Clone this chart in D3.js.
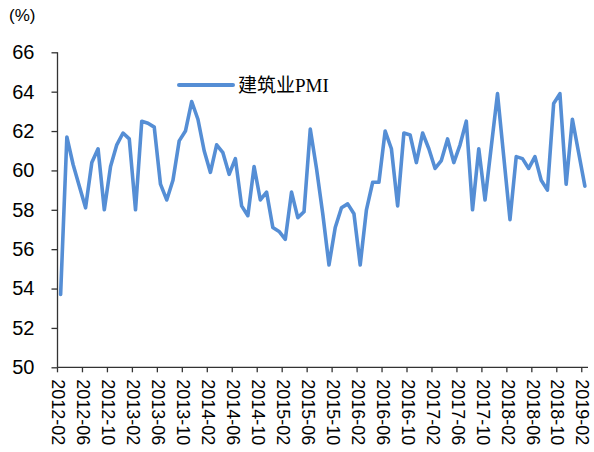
<!DOCTYPE html>
<html>
<head>
<meta charset="utf-8">
<script src="https://cdn.jsdelivr.net/npm/d3@7"></script>
<style>
  body { margin: 0; background: #fff; }
  svg { display: block; }
</style>
</head>
<body>
<svg class="chart"></svg>
<script>
// monthly categories 2012-02 .. 2019-02
var months = [];
for (var y = 2012; y <= 2019; y++) {
    for (var m = 1; m <= 12; m++) {
        if ((y == 2012 && m < 2) || (y == 2019 && m > 2)) continue;
        months.push(y + "-" + (m < 10 ? "0" + m : m));
    }
}

var seriesName = "建筑业PMI";
var pmi = [
    53.7, 61.7, 60.3, 59.2, 58.1, 60.4, 61.1, 58.0, 60.2, 61.3, 61.9, 61.6,
    58.0, 62.5, 62.4, 62.2, 59.3, 58.5, 59.5, 61.5, 62.0, 63.5, 62.6, 61.0,
    59.9, 61.3, 60.9, 59.8, 60.6, 58.2, 57.7, 60.2, 58.5, 58.9, 57.1, 56.9,
    56.5, 58.9, 57.6, 57.9, 62.1, 60.1, 57.8, 55.2, 57.1, 58.1, 58.3, 57.8,
    55.2, 58.0, 59.4, 59.4, 62.0, 61.1, 58.2, 61.9, 61.8, 60.4, 61.9, 61.1,
    60.1, 60.5, 61.6, 60.4, 61.3, 62.5, 58.0, 61.1, 58.5, 61.2, 63.9, 60.7,
    57.5, 60.7, 60.6, 60.1, 60.7, 59.5, 59.0, 63.4, 63.9, 59.3, 62.6, 60.9,
    59.2
];
var tickLabels = ["2012-02", "2012-06", "2012-10", "2013-02", "2013-06", "2013-10",
    "2014-02", "2014-06", "2014-10", "2015-02", "2015-06", "2015-10",
    "2016-02", "2016-06", "2016-10", "2017-02", "2017-06", "2017-10",
    "2018-02", "2018-06", "2018-10", "2019-02"];
var yTicks = [50, 52, 54, 56, 58, 60, 62, 64, 66];

var width = 594, height = 452;
var lineColor = "#558ed5";
var axisColor = "#333";

var svg = d3.select("svg.chart")
    .attr("width", width)
    .attr("height", height)
    .style("font-family", "Arial, 'Liberation Sans', sans-serif");

var x = d3.scaleBand()
    .domain(months)
    .range([57.5, 588])
    .paddingInner(0)
    .paddingOuter(0);

var yScale = d3.scaleLinear()
    .domain([50, 66])
    .range([367.3, 52.3]);

// y axis
var yAxis = svg.append("g")
    .attr("transform", "translate(" + x.range()[0] + ",0)")
    .call(d3.axisLeft(yScale).tickValues(yTicks).tickSize(6).tickPadding(17).tickFormat(d3.format("d")));
yAxis.selectAll("text")
    .style("font-size", "20px")
    .attr("fill", "#000");

// x axis: ticks at the left edge of each labelled month
var xAxis = svg.append("g")
    .attr("transform", "translate(0," + yScale(50) + ")");
xAxis.append("line")
    .attr("x1", x.range()[0])
    .attr("x2", x.range()[1])
    .attr("stroke", axisColor)
    .attr("stroke-width", 1.3);
var xt = xAxis.selectAll("g.tick")
    .data(tickLabels)
    .enter()
    .append("g")
    .attr("class", "tick")
    .attr("transform", d => "translate(" + x(d) + ",0)");
xt.append("line")
    .attr("y2", 5)
    .attr("stroke", axisColor)
    .attr("stroke-width", 1.3);
xt.append("text")
    .attr("transform", "translate(1,12) rotate(90)")
    .attr("dy", "0.35em")
    .style("font-size", "18px")
    .attr("fill", "#000")
    .text(d => d);

yAxis.selectAll("path, line")
    .attr("stroke", axisColor)
    .attr("stroke-width", 1.3);
yAxis.select("path.domain")
    .attr("d", "M0," + yScale(66) + "V" + yScale(50));

// unit label
svg.append("text")
    .attr("x", 9)
    .attr("y", 21)
    .style("font-size", "17px")
    .attr("fill", "#000")
    .text("(%)");

// series line
var line = d3.line()
    .x((d, i) => x(months[i]) + x.bandwidth() / 2)
    .y(d => yScale(d));

svg.append("path")
    .datum(pmi)
    .attr("d", line)
    .attr("fill", "none")
    .attr("stroke", lineColor)
    .attr("stroke-width", 3.6)
    .attr("stroke-linejoin", "round")
    .attr("stroke-linecap", "round");

// legend
var legend = svg.append("g");
legend.append("line")
    .attr("x1", 179)
    .attr("x2", 233)
    .attr("y1", 85)
    .attr("y2", 85)
    .attr("stroke", lineColor)
    .attr("stroke-width", 4)
    .attr("stroke-linecap", "round");
legend.append("text")
    .attr("x", 238)
    .attr("y", 92)
    .style("font-family", "'Liberation Serif', 'Noto Sans CJK SC', serif")
    .style("font-size", "19px")
    .attr("fill", "#000")
    .text(seriesName);
</script>
</body>
</html>
